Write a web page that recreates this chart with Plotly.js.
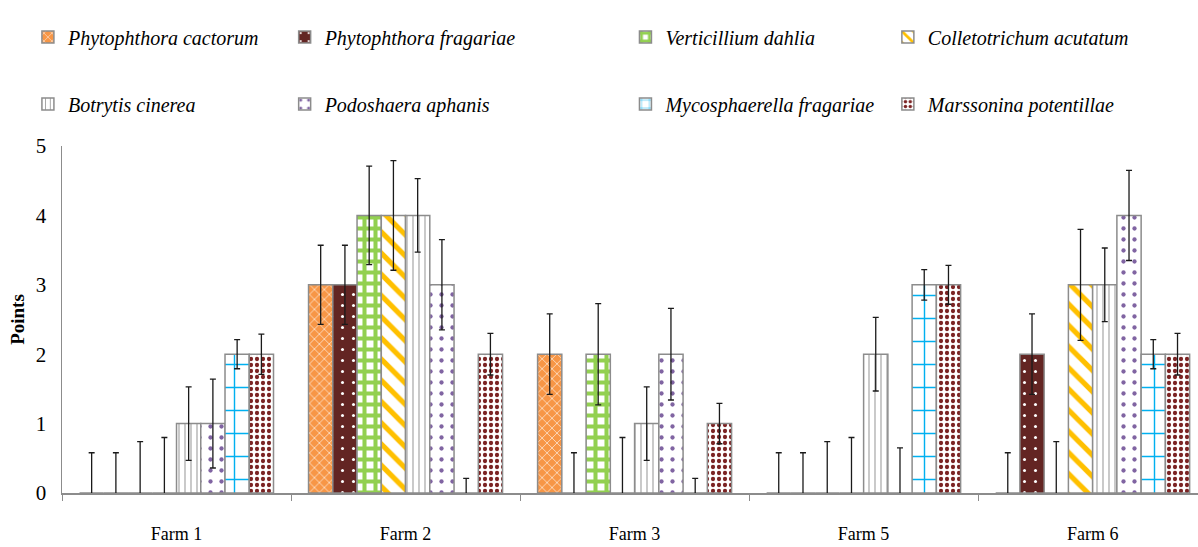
<!DOCTYPE html>
<html>
<head>
<meta charset="utf-8">
<script src="https://cdn.plot.ly/plotly-3.0.1.min.js"></script>
<style>html,body{margin:0;padding:0;background:#fff;}#chart{width:1198px;height:547px;}</style>
</head>
<body>
<div id="chart"></div>
<script>
const farms = ["Farm 1", "Farm 2", "Farm 3", "Farm 5", "Farm 6"];
const seriesNames = ["Phytophthora cactorum", "Phytophthora fragariae", "Verticillium dahlia", "Colletotrichum acutatum",
                     "Botrytis cinerea", "Podoshaera aphanis", "Mycosphaerella fragariae", "Marssonina potentillae"];
const phytophthoraCactorum   = [0, 3, 2, 0, 0];
const phytophthoraFragariae  = [0, 3, 0, 0, 2];
const verticilliumDahlia     = [0, 4, 2, 0, 0];
const colletotrichumAcutatum = [0, 4, 0, 0, 3];
const botrytisCinerea        = [1, 4, 1, 2, 3];
const podoshaeraAphanis      = [1, 3, 2, 0, 4];
const mycosphaerellaFragariae= [2, 0, 0, 3, 2];
const marssoninaPotentillae  = [2, 2, 1, 3, 2];
const errPC = [0.58, 0.57, 0.58, 0.58, 0.58];
const errPF = [0.58, 0.57, 0.58, 0.58, 0.58];
const errVD = [0.74, 0.71, 0.73, 0.74, 0.74];
const errCA = [0.80, 0.79, 0.80, 0.80, 0.80];
const errBC = [0.53, 0.53, 0.53, 0.53, 0.53];
const errPA = [0.64, 0.65, 0.66, 0.65, 0.65];
const errMF = [0.21, 0.21, 0.21, 0.22, 0.21];
const errMP = [0.29, 0.30, 0.29, 0.28, 0.30];

const values = [phytophthoraCactorum, phytophthoraFragariae, verticilliumDahlia, colletotrichumAcutatum,
                botrytisCinerea, podoshaeraAphanis, mycosphaerellaFragariae, marssoninaPotentillae];
const errors = [errPC, errPF, errVD, errCA, errBC, errPA, errMF, errMP];

const patterns = [
  {shape: "x", bgcolor: "#F79646", fgcolor: "#ffffff", size: 7, solidity: 0.2, fillmode: "overlay", fgopacity: 0.8},
  {shape: ".", bgcolor: "#632523", fgcolor: "#ffffff", size: 11, solidity: 0.06, fillmode: "overlay", fgopacity: 1},
  {shape: "+", bgcolor: "#ffffff", fgcolor: "#92D050", size: 11, solidity: 0.6, fillmode: "overlay", fgopacity: 1},
  {shape: "\\", bgcolor: "#ffffff", fgcolor: "#FFC000", size: 15, solidity: 0.35, fillmode: "overlay", fgopacity: 1},
  {shape: "|", bgcolor: "#ffffff", fgcolor: "#a6a6a6", size: 6, solidity: 0.2, fillmode: "overlay", fgopacity: 1},
  {shape: ".", bgcolor: "#ffffff", fgcolor: "#8064A2", size: 11, solidity: 0.12, fillmode: "overlay", fgopacity: 1},
  {shape: "+", bgcolor: "#ffffff", fgcolor: "#00B0F0", size: 23, solidity: 0.12, fillmode: "overlay", fgopacity: 1},
  {shape: ".", bgcolor: "#ffffff", fgcolor: "#7B2323", size: 6, solidity: 0.4, fillmode: "overlay", fgopacity: 1}
];
const legendIds = ["legend", "legend2", "legend3", "legend4", "legend", "legend2", "legend3", "legend4"];

const traces = seriesNames.map((name, i) => ({
  type: "bar",
  name: name,
  x: farms,
  y: values[i],
  legend: legendIds[i],
  legendgroup: "g" + i,
  marker: {
    color: patterns[i].bgcolor,
    line: {color: "#8c8c8c", width: 1.5},
    pattern: patterns[i]
  },
  error_y: {type: "data", array: errors[i], visible: true, color: "#1a1a1a", thickness: 1.3, width: 3}
}));

const legendFont = {family: "Liberation Serif", size: 20, color: "#000", style: "italic"};
const legendBase = {orientation: "v", yanchor: "top", y: 1.37, xanchor: "left", font: legendFont,
                    tracegroupgap: 38, bgcolor: "rgba(0,0,0,0)", itemwidth: 30};

const layout = {
  width: 1198, height: 547,
  margin: {l: 62, r: 0, t: 146, b: 54},
  paper_bgcolor: "#fff", plot_bgcolor: "#fff",
  barmode: "group", bargap: 0.153, bargroupgap: 0,
  showlegend: true,
  legend:  Object.assign({}, legendBase, {x: -0.030}),
  legend2: Object.assign({}, legendBase, {x: 0.196}),
  legend3: Object.assign({}, legendBase, {x: 0.496}),
  legend4: Object.assign({}, legendBase, {x: 0.727}),
  xaxis: {
    range: [-0.5, 4.46], showline: true, linecolor: "#8c8c8c", linewidth: 1.5,
    ticks: "outside", tickson: "boundaries", ticklen: 6, tickcolor: "#8c8c8c",
    ticklabelstandoff: 24, showgrid: false, zeroline: false,
    tickfont: {family: "Liberation Serif", size: 18, color: "#000"}
  },
  yaxis: {
    range: [0, 5], dtick: 1, showline: true, linecolor: "#8c8c8c", linewidth: 1.5,
    ticks: "", showgrid: false, zeroline: false, ticklabelstandoff: 10,
    tickfont: {family: "Liberation Serif", size: 21, color: "#000"},
    title: {text: "<b>Points</b>", font: {family: "Liberation Serif", size: 19, color: "#000"}, standoff: 6}
  }
};

Plotly.newPlot("chart", traces, layout, {displayModeBar: false, staticPlot: true});
</script>
</body>
</html>
